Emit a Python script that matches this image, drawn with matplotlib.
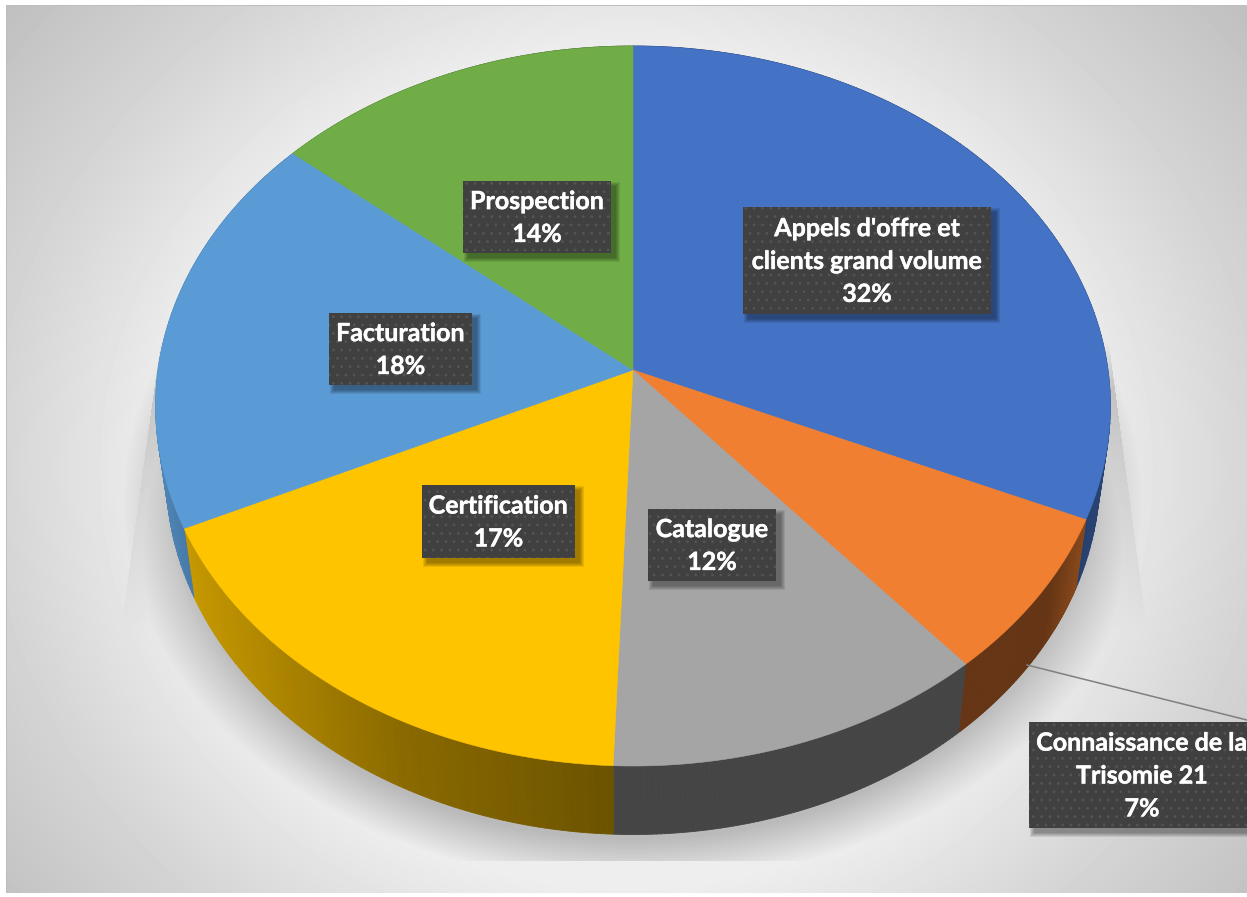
"""
3D style pie chart, drawn with a small perspective projection.
"""

import numpy as np
import matplotlib

matplotlib.use("Agg")
import matplotlib.pyplot as plt
import matplotlib.patheffects as pe
from matplotlib.collections import PolyCollection
from matplotlib.patches import Rectangle

# Data
categories = [
    "Appels d'offre et\nclients grand volume",
    "Connaissance de la\nTrisomie 21",
    "Catalogue",
    "Certification",
    "Facturation",
    "Prospection",
]
shares = [31.6, 7.2, 11.8, 17.4, 18.2, 13.8]
percent_labels = ["32%", "7%", "12%", "17%", "18%", "14%"]
slice_colors = ["#4472C4", "#F07F31", "#A5A5A5", "#FFC400", "#5B9BD5", "#70AD47"]

# Label boxes: left, top, right, bottom in pixels
label_boxes = [
    (743, 207, 991, 314),
    (1029, 722, 1255, 828),
    (648, 509, 776, 581),
    (422, 485, 575, 558),
    (329, 313, 472, 385),
    (463, 181, 611, 253),
]

WIDTH, HEIGHT = 1247, 897
APEX_X, APEX_Y = 633, 370
RX, RY, TILT = 475, 356.4, 0.1
DEPTH = 68.5
BOTTOM_SCALE = 0.978


def top_rim(frac):
    """Maps a pie fraction (clockwise from north) onto the top face."""
    ang = 2 * np.pi * np.asarray(frac)
    cx, cy = np.sin(ang), np.cos(ang)
    w = 1 + TILT * cy
    return APEX_X + RX * cx / w, APEX_Y - RY * cy / w


def bottom_rim(frac):
    x, y = top_rim(frac)
    return APEX_X + BOTTOM_SCALE * (x - APEX_X), y + DEPTH


def side_shade(x):
    """Darkening factor of the side wall, depends on horizontal position."""
    return np.interp(
        x, [160, 190, 400, 615, 1050, 1080, 1110], [0.85, 0.77, 0.54, 0.42, 0.42, 0.55, 0.6]
    )


def draw_background(ax):
    yy, xx = np.mgrid[0:HEIGHT, 0:WIDTH]
    d = np.sqrt(((xx - 626) / 620) ** 2 + ((yy - 470) / 560) ** 2)
    grey = np.interp(d, [0, 0.75, 1.0, 1.3], [0.96, 0.93, 0.84, 0.75])

    # soft shadow under the pie
    e = np.sqrt(((xx - 632) / 510) ** 2 + ((yy - 500) / 385) ** 2)
    soft = 0.22 * np.clip((1 - e) / 0.12, 0, 1)
    soft[yy > 860] = 0

    # fan shaped shadow with a hard outer edge, fades in at its top
    left = 155 - 0.139 * (yy - 380)
    right = 1116 + 0.133 * (yy - 400)
    fan = 0.17 * np.clip(1 - (yy - 380) / 250, 0, 1) * np.clip((yy - 340) / 50, 0, 1)
    fan[(xx < left) | (xx > right)] = 0

    grey = grey * (1 - np.maximum(soft, fan))
    grey[:5, :] = 1
    grey[893:, :] = 1
    grey[:, :6] = 1
    grey[5, 6:] = 0.74
    grey[5:893, 6] = 0.74
    ax.imshow(
        grey,
        cmap="gray",
        vmin=0,
        vmax=1,
        extent=(0, WIDTH, HEIGHT, 0),
        interpolation="nearest",
        aspect="auto",
        zorder=0,
    )


def draw_sides(ax, edges):
    for i, color in enumerate(slice_colors):
        rgb = np.array(matplotlib.colors.to_rgb(color))
        frac = np.linspace(edges[i], edges[i + 1], 90)
        xt, yt = top_rim(frac)
        xb, yb = bottom_rim(frac)
        quads = []
        colors = []
        for k in range(len(frac) - 1):
            quads.append(
                [
                    (xt[k], yt[k]),
                    (xt[k + 1], yt[k + 1]),
                    (xb[k + 1], yb[k + 1]),
                    (xb[k], yb[k]),
                ]
            )
            colors.append(rgb * side_shade((xt[k] + xt[k + 1]) / 2))
        ax.add_collection(
            PolyCollection(quads, facecolors=colors, edgecolors="face", linewidths=0.6, zorder=2)
        )


def draw_top(ax, edges):
    for i, color in enumerate(slice_colors):
        frac = np.linspace(edges[i], edges[i + 1], 120)
        x, y = top_rim(frac)
        ax.fill(
            np.r_[APEX_X, x],
            np.r_[APEX_Y, y],
            color=color,
            linewidth=0.4,
            zorder=3,
        )


def draw_label(ax, box, text):
    x0, y0, x1, y1 = box
    for grow in range(5, 0, -1):
        ax.add_patch(
            Rectangle(
                (x0 + 6 - grow, y0 + 6 - grow),
                x1 - x0 + 2 * grow - 2,
                y1 - y0 + 2 * grow - 2,
                facecolor="black",
                edgecolor="none",
                alpha=0.085,
                zorder=5,
            )
        )
    ax.add_patch(
        Rectangle(
            (x0, y0),
            x1 - x0,
            y1 - y0,
            facecolor="#404040",
            edgecolor="#545454",
            hatch="..",
            linewidth=0,
            zorder=6,
        )
    )
    ax.text(
        (x0 + x1) / 2,
        (y0 + y1) / 2 + 1,
        text,
        color="white",
        family="Lato",
        weight="bold",
        fontsize=18,
        ha="center",
        va="center",
        linespacing=1.52,
        zorder=7,
        path_effects=[pe.withStroke(linewidth=0.3, foreground="white")],
    )


def main():
    plt.rcParams["hatch.linewidth"] = 0.8
    fig = plt.figure(figsize=(WIDTH / 100, HEIGHT / 100), dpi=100)
    ax = fig.add_axes([0, 0, 1, 1])

    draw_background(ax)

    edges = np.r_[0, np.cumsum(shares)] / sum(shares)
    draw_sides(ax, edges)
    draw_top(ax, edges)

    # leader line of the small slice
    ax.plot([1027, 1247], [665, 720], color="#7F7F7F", linewidth=1.1, zorder=4)

    for box, name, pct in zip(label_boxes, categories, percent_labels):
        draw_label(ax, box, name + "\n" + pct)

    ax.set_xlim(0, WIDTH)
    ax.set_ylim(HEIGHT, 0)
    ax.axis("off")
    fig.savefig("out.png", dpi=100)


if __name__ == "__main__":
    main()
